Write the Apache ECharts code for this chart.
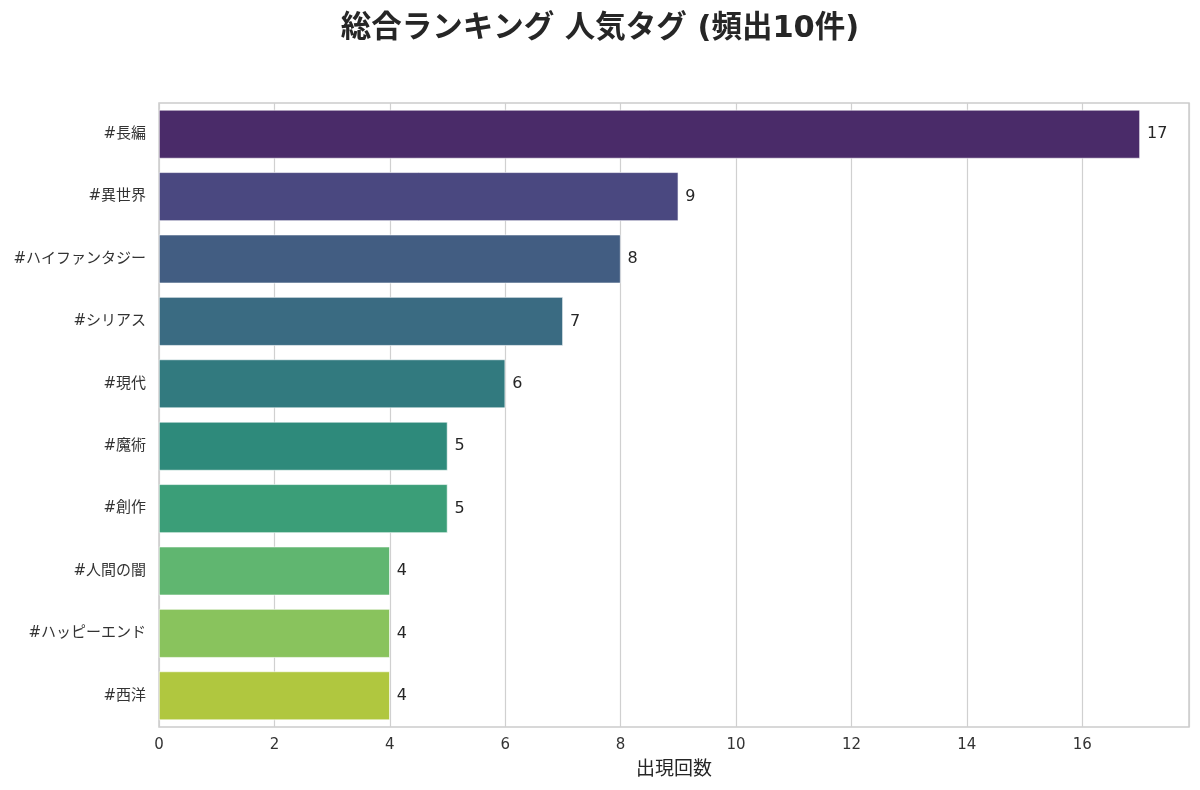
<!DOCTYPE html>
<html>
<head>
<meta charset="utf-8">
<script src="https://cdn.jsdelivr.net/npm/echarts@6/dist/echarts.min.js"></script>
<style>
  html, body { margin: 0; padding: 0; background: #fff; }
  #container { width: 1200px; height: 790px; }
</style>
</head>
<body>
<div id="container"></div>
<script>
var tags = ['#長編', '#異世界', '#ハイファンタジー', '#シリアス', '#現代', '#魔術', '#創作', '#人間の闇', '#ハッピーエンド', '#西洋'];
var counts = [17, 9, 8, 7, 6, 5, 5, 4, 4, 4];
var barColors = ['#4a2b69', '#4a4880', '#425d82', '#3a6b82', '#327a7f', '#2e8a7b', '#3b9e78', '#60b670', '#89c35d', '#b0c73f'];

var font = "'DejaVu Sans', 'Noto Sans CJK JP', sans-serif";
var chart = echarts.init(document.getElementById('container'));
var option = {
    backgroundColor: '#ffffff',
    title: {
        text: '総合ランキング 人気タグ (頻出10件)',
        left: 'center',
        top: 9,
        textStyle: {
            fontFamily: font,
            fontSize: 30.5,
            fontWeight: 'bold',
            color: '#262626'
        }
    },
    grid: {
        left: 159,
        right: 11,
        top: 103,
        bottom: 63,
        show: true,
        borderColor: '#cccccc',
        borderWidth: 1.5
    },
    xAxis: {
        type: 'value',
        min: 0,
        max: 17.85,
        interval: 2,
        name: '出現回数',
        nameLocation: 'middle',
        nameGap: 34,
        nameTextStyle: { fontFamily: font, fontSize: 19, color: '#262626' },
        axisLine: { show: false },
        axisTick: { show: false },
        axisLabel: { fontFamily: font, fontSize: 15, color: '#333333', margin: 11, showMaxLabel: false },
        splitLine: { show: true, lineStyle: { color: '#d0d0d0', width: 1.2 } }
    },
    yAxis: {
        type: 'category',
        data: tags,
        inverse: true,
        axisLine: { show: false },
        axisTick: { show: false },
        axisLabel: { fontFamily: font, fontSize: 15, color: '#333333', margin: 13 },
        splitLine: { show: false }
    },
    series: [{
        type: 'bar',
        data: counts.map(function (v, i) {
            return { value: v, itemStyle: { color: barColors[i] } };
        }),
        barWidth: '78%',
        itemStyle: { borderColor: '#ffffff', borderWidth: 0.6 },
        label: {
            show: true,
            position: 'right',
            distance: 7,
            fontFamily: font,
            fontSize: 16,
            color: '#262626'
        }
    }]
};
chart.setOption(option);
</script>
</body>
</html>
